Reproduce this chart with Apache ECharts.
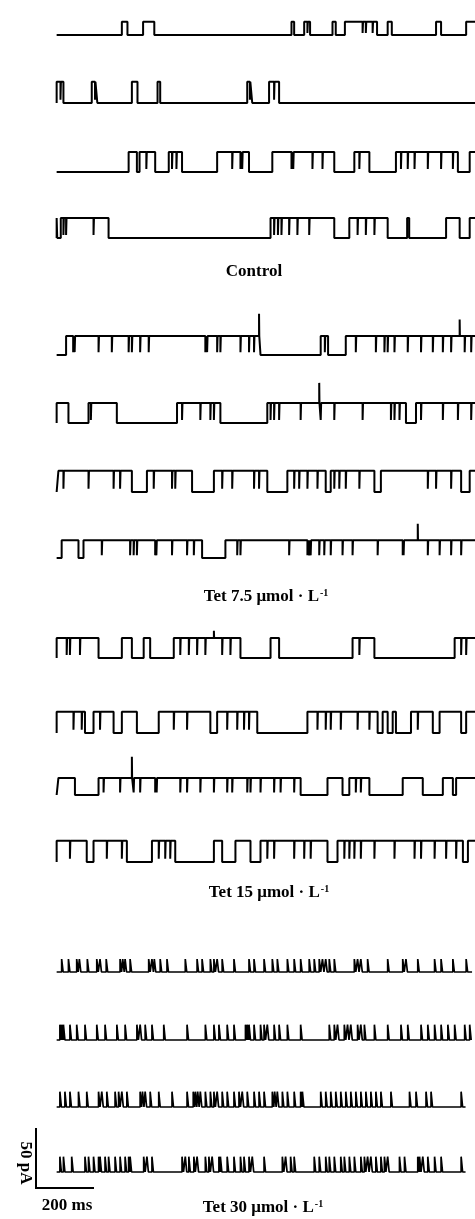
<!DOCTYPE html>
<html>
<head>
<meta charset="utf-8">
<script src="https://cdn.jsdelivr.net/npm/echarts@6/dist/echarts.min.js"></script>
<style>
html,body{margin:0;padding:0;background:#fff;}
#c{width:475px;height:1219px;}
</style>
</head>
<body>
<div id="c"></div>
<script>
// ---- Data (time in ms, current in pA) ----
const groupLabels = ['Control', 'Tet 7.5 \u03bcmol \u00b7 L', 'Tet 15 \u03bcmol \u00b7 L', 'Tet 30 \u03bcmol \u00b7 L'];
const scaleLabels = ['50 pA', '200 ms'];

// open-channel amplitude per trace (pA)
const amplitudes = [17, 18, 17, 17, 16, 17, 18, 15, 17, 18, 14.5, 18, 11, 13, 13, 13];
// recording end per trace (ms)
const traceEnds = [1420, 1420, 1420, 1420, 1420, 1420, 1420, 1420, 1420, 1420, 1420, 1420, 1400, 1397, 1378, 1378];

// Control: open intervals [start, end] (ms)
const t1Open = [[213,232],[285,323],[788,797],[831,851],[927,938],[969,1078],[1114,1128],[1278,1295],[1380,1420]];
const t1Flick = [842,1029,1040,1063];
const t2Open = [[-8,15],[111,130],[247,266],[334,343],[638,655],[712,746]];
const t2Flick = [5,122,647,729];
const t3Open = [[236,264],[273,326],[372,417],[536,644],[723,933],[1001,1052],[1142,1352],[1392,1420]];
const t3Flick = [296,383,398,587,615,621,788,794,859,893,1018,1159,1182,1205,1250,1295,1335];
const t4Open = [[-8,-6],[6,168],[717,933],[984,1114],[1180,1187],[1312,1358],[1392,1420]];
const t4Flick = [15,24,117,729,742,754,780,808,848,1012,1040,1069];

// Tet 7.5
const t5Open = [[24,683],[887,912],[972,1420]];
const t5Flick = [48,53,134,179,236,247,275,304,496,502,536,547,615,644,661,901,1006,1074,1103,1114,1137,1182,1227,1267,1301,1329,1375,1397];
const t5Art = [[678,19],[1358,14]];
const t6Open = [[-8,32],[100,196],[400,547],[706,1176],[1210,1420]];
const t6Flick = [108,417,479,513,525,717,729,746,819,887,933,1029,1125,1137,1154,1227,1301,1352,1397];
const t6Art = [[882,17]];
const t7Open = [[-2,247],[298,451],[525,706],[774,904],[921,1069],[1091,1363],[1392,1420]];
const t7Flick = [15,100,185,207,321,383,394,553,587,661,678,797,814,842,876,933,950,972,1018,1250,1278,1329];
const t8Open = [[9,66],[83,485],[564,1420]];
const t8Flick = [145,241,253,264,326,330,383,434,457,604,615,780,842,848,853,882,899,921,961,995,1080,1165,1168,1250,1290,1329,1363];
const t8Art = [[1216,14]];

// Tet 15
const t9Open = [[-8,134],[213,247],[287,309],[389,615],[717,746],[995,1069],[1341,1420]];
const t9Flick = [26,37,71,411,440,468,496,553,581,1018,1363,1380];
const t9Art = [[525,6]];
const t10Open = [[-8,88],[117,185],[213,264],[338,513],[536,672],[842,1080],[1097,1114],[1131,1142],[1193,1267],[1290,1363],[1380,1420]];
const t10Flick = [49,77,139,389,434,570,604,627,644,876,904,921,955,1012,1052,1216];
const t11Open = [[-2,54],[134,819],[910,961],[984,1052],[1165,1233],[1301,1335],[1346,1420]];
const t11Flick = [151,207,253,275,326,331,411,434,479,525,570,587,638,649,683,729,751,797,1006,1023];
const t11Art = [[247,18]];
const t12Open = [[-8,94],[117,230],[315,394],[525,553],[598,649],[683,910],[944,1369],[1386,1420]];
const t12Flick = [37,162,213,338,360,377,706,729,797,831,853,967,984,1001,1023,1069,1137,1205,1227,1273,1312,1346];

// Tet 30: brief opening times (ms)
const t13Spikes = [9,32,60,69,96,128,139,160,207,216,224,241,304,315,323,343,366,428,468,485,513,525,536,553,593,644,661,695,723,740,774,797,819,848,865,882,893,904,916,933,1001,1012,1023,1046,1114,1165,1176,1216,1273,1295,1335,1380];
const t14Spikes = [3,9,15,37,60,88,128,156,196,224,264,275,292,315,355,434,496,525,542,570,593,632,638,644,661,683,695,706,729,746,774,819,916,933,944,967,978,989,1012,1023,1035,1069,1114,1159,1182,1227,1250,1273,1295,1318,1341,1375,1392];
const t15Spikes = [3,20,37,66,94,134,145,162,190,202,213,230,275,283,292,309,338,383,434,455,462,470,479,496,513,525,536,553,570,593,610,621,638,661,678,695,723,731,740,757,774,797,819,825,887,904,921,938,955,972,989,1006,1023,1040,1057,1074,1091,1125,1188,1210,1244,1261,1363];
const t16Spikes = [3,15,43,88,100,117,134,139,156,168,190,207,224,236,241,287,298,315,417,428,440,457,468,496,508,519,542,547,570,593,615,627,644,655,695,757,768,785,797,865,882,904,916,933,955,967,984,1001,1023,1035,1046,1057,1074,1091,1103,1114,1154,1171,1216,1222,1233,1250,1273,1295,1363];

// ---- Build ----
const spikeWidth = 5;
function spikesToOpen(arr){ return arr.map(t => [t, t + spikeWidth]); }

const traces = [
  {open:t1Open, flick:t1Flick, art:[]},
  {open:t2Open, flick:t2Flick, art:[]},
  {open:t3Open, flick:t3Flick, art:[]},
  {open:t4Open, flick:t4Flick, art:[]},
  {open:t5Open, flick:t5Flick, art:t5Art},
  {open:t6Open, flick:t6Flick, art:t6Art},
  {open:t7Open, flick:t7Flick, art:[]},
  {open:t8Open, flick:t8Flick, art:t8Art},
  {open:t9Open, flick:t9Flick, art:t9Art},
  {open:t10Open, flick:t10Flick, art:[]},
  {open:t11Open, flick:t11Flick, art:t11Art},
  {open:t12Open, flick:t12Flick, art:[]},
  {open:spikesToOpen(t13Spikes), flick:[], art:[]},
  {open:spikesToOpen(t14Spikes), flick:[], art:[]},
  {open:spikesToOpen(t15Spikes), flick:[], art:[]},
  {open:spikesToOpen(t16Spikes), flick:[], art:[]}
];

const traceStart = -8;
const flickDepth = 0.85;

function build(tr, amp, end){
  const pts = [[traceStart, 0]];
  tr.open.forEach(([a,b]) => {
    const a0 = Math.max(a, traceStart);
    pts.push([a0, 0], [a0, amp]);
    const ev = [];
    tr.flick.forEach(t => { if (t > a0 && t < b) ev.push({t, k:'f'}); });
    tr.art.forEach(([t,h]) => { if (t > a0 && t < b) ev.push({t, k:'a', h}); });
    ev.sort((p,q) => p.t - q.t);
    ev.forEach(e => {
      if (e.k === 'f') {
        const lo = amp * (1 - flickDepth);
        pts.push([e.t, amp], [e.t, lo], [e.t + 1.5, lo], [e.t + 1.5, amp]);
      } else {
        pts.push([e.t, amp], [e.t, amp + e.h], [e.t + 0.8, amp]);
      }
    });
    pts.push([b, amp], [b, 0]);
  });
  pts.push([end, 0]);
  return pts;
}

// layout: closed-level pixel row of each trace
const baseRows = [33,103,172,238,355,423,492,558,658,733,795,862,972,1040,1107,1172];
const yMin = -5, yMax = 45, gridH = 59;

const grids = [], xAxes = [], yAxes = [], series = [];
baseRows.forEach((b, i) => {
  grids.push({left:0, right:0, top: b - gridH * (yMax / (yMax - yMin)), height: gridH});
  xAxes.push({type:'value', gridIndex:i, min:-200, max:1410, show:false});
  yAxes.push({type:'value', gridIndex:i, min:yMin, max:yMax, show:false});
  series.push({
    type:'line', xAxisIndex:i, yAxisIndex:i,
    data: build(traces[i], amplitudes[i], traceEnds[i]),
    showSymbol:false, symbol:'none', animation:false, clip:true,
    lineStyle:{color:'#000', width: i >= 12 ? 1.7 : 2, join:'bevel', cap:'butt'}
  });
});

const labelFont = 'bold 17px "Liberation Serif", "Times New Roman", serif';
const rich = {
  m: {font: labelFont, fill:'#000'},
  sup: {font: 'bold 10px "Liberation Serif", serif', fill:'#000', verticalAlign:'top', padding:[0,0,8,1]}
};
function lab(x, y, txt, sup){
  return {type:'text', x, y, style:{
    text: sup ? '{m|' + txt + '}{sup|-1}' : txt,
    rich: sup ? rich : undefined,
    font: labelFont, fill:'#000', align:'center', verticalAlign:'middle'
  }};
}

const chart = echarts.init(document.getElementById('c'), null, {renderer:'canvas'});
chart.setOption({
  backgroundColor:'#fff',
  animation:false,
  grid: grids, xAxis: xAxes, yAxis: yAxes, series,
  graphic: [
    lab(254, 272, groupLabels[0], false),
    lab(266, 597, groupLabels[1], true),
    lab(269, 893, groupLabels[2], true),
    lab(263, 1208, groupLabels[3], true),
    lab(67, 1206, scaleLabels[1], false),
    {type:'text', x:25, y:1163, rotation:-Math.PI/2, style:{text: scaleLabels[0], font: labelFont, fill:'#000', align:'center', verticalAlign:'middle'}},
    {type:'polyline', shape:{points:[[36,1128],[36,1188],[94,1188]]}, style:{stroke:'#000', lineWidth:2, fill:null}}
  ]
});
</script>
</body>
</html>
